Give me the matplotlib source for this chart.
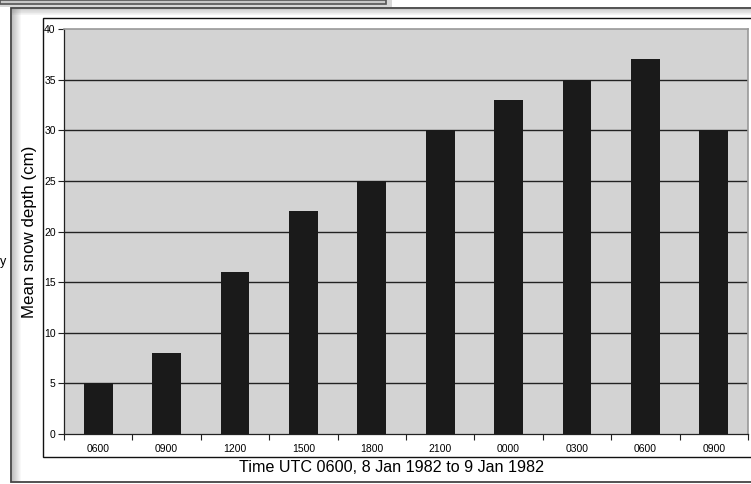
import matplotlib
matplotlib.use("Agg")
import matplotlib.pyplot as plt
from matplotlib.patches import Rectangle
import numpy as np

plt.rcParams['font.family'] = ['Liberation Sans', 'DejaVu Sans']

# data
times = ["0600", "0900", "1200", "1500", "1800", "2100", "0000", "0300", "0600", "0900"]
depth = [5, 8, 16, 22, 25, 30, 33, 35, 37, 30]
yticks = [0, 5, 10, 15, 20, 25, 30, 35, 40]

W, H = 751, 484
fig = plt.figure(figsize=(W/100, H/100), dpi=100)

# background decorations in pixel coordinates
bg = fig.add_axes([0, 0, 1, 1])
bg.set_xlim(0, W)
bg.set_ylim(H, 0)
bg.axis("off")

# cut-off box at top-left with its shadow
bg.add_patch(Rectangle((0, 0), 392, 7, facecolor="#d8d8d8", edgecolor="none"))
bg.add_patch(Rectangle((0, 0), 386, 3.5, facecolor="#c8c8c8", edgecolor="#555555", lw=1.2))

# outer frame with inner soft shadow
bg.add_patch(Rectangle((10.5, 7.5), 760, 474.5, facecolor="white", edgecolor="#444444", lw=1.3))
for i, a in enumerate(np.linspace(0.45, 0.0, 10)):
    bg.add_patch(Rectangle((12 + i, 9), 1.2, 472, facecolor="#777777", alpha=a, edgecolor="none"))
    bg.add_patch(Rectangle((12, 9 + i*0.7), 740, 0.8, facecolor="#777777", alpha=a*0.8, edgecolor="none"))

# chart box
bg.add_patch(Rectangle((42.5, 17.5), 720, 439, facecolor="white", edgecolor="#111111", lw=1.0))

bg.text(3, 262, "y", fontsize=9, ha="center", va="center")

# main axes
ax = fig.add_axes([64/W, 1 - 434/H, (748 - 64)/W, (434 - 29)/H])
ax.set_facecolor("#d3d3d3")
x = np.arange(len(depth))
ax.bar(x, depth, width=0.42, color="#1a1a1a", zorder=3)
ax.set_xlim(-0.5, len(depth) - 0.5)
ax.set_ylim(0, 40)

for y in yticks[1:-1]:
    ax.axhline(y, color="#222222", lw=1.0, zorder=1)

ax.set_yticks(yticks)
ax.set_yticklabels([str(v) for v in yticks], fontsize=7.5)
ax.set_xticks(np.arange(len(depth) + 1) - 0.5)
ax.set_xticklabels([])
ax.set_xticks(x, minor=True)
ax.set_xticklabels(times, minor=True, fontsize=7.5)
ax.tick_params(axis="x", which="major", length=4, width=0.8, color="#222222", direction="out")
ax.tick_params(axis="x", which="minor", length=0, pad=7)
ax.tick_params(axis="y", length=4, width=0.8, color="#222222", pad=2)

for s in ["top", "right"]:
    ax.spines[s].set_color("#999999")
    ax.spines[s].set_linewidth(1.2)
for s in ["left", "bottom"]:
    ax.spines[s].set_color("#222222")
    ax.spines[s].set_linewidth(0.9)

ax.set_ylabel("Mean snow depth (cm)", fontsize=12.2, va="center")
ax.yaxis.set_label_coords((30 - 64) / 684, 0.5)
ax.set_xlabel("Time UTC 0600, 8 Jan 1982 to 9 Jan 1982", fontsize=11.6, va="center")
ax.xaxis.set_label_coords((392 - 64) / 684, (434 - 468) / 405)

fig.savefig("out.png", dpi=100)
